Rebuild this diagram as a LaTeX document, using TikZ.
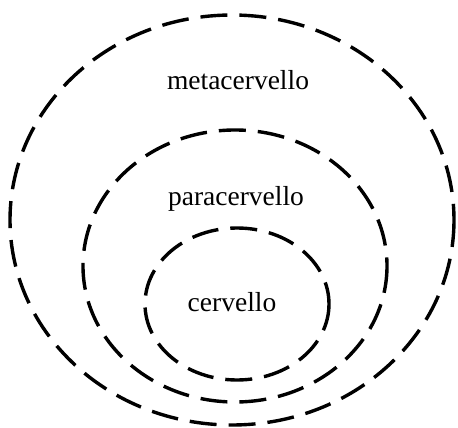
\documentclass[tikz,border=0pt]{standalone}
\usepackage{fontspec}
\setmainfont{Liberation Serif}
\begin{document}
\begin{tikzpicture}[x=1pt,y=-1pt,
  ring/.style={draw=black,line width=3.4pt,dash pattern=on 27pt off 12pt},
  lbl/.style={font=\fontsize{27.5}{30}\selectfont,inner sep=0pt}]
\useasboundingbox (0,0) rectangle (458,428);
\draw[ring] (232,220) ellipse [x radius=222, y radius=205];
\draw[ring] (235,266) ellipse [x radius=152, y radius=136];
\draw[ring] (237,304) ellipse [x radius=92, y radius=76];
\node[lbl] (meta) at (238,80) {metacervello};
\node[lbl] (para) at (236,199) {paracervello};
\node[lbl] (cerv) at (232,302) {cervello};
\end{tikzpicture}
\end{document}
